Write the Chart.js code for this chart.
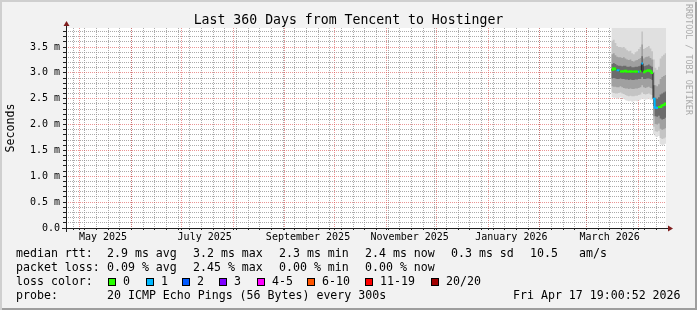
<!DOCTYPE html>
<html>
<head>
<meta charset="utf-8">
<title>Last 360 Days from Tencent to Hostinger</title>
<script src="https://cdn.jsdelivr.net/npm/chart.js@4.4.1/dist/chart.umd.min.js"></script>
<style>
  html, body { margin: 0; padding: 0; background: #f2f2f2; }
  #wrap { position: relative; width: 697px; height: 310px; background: #f2f2f2; overflow: hidden;
          box-shadow: inset 2px 2px 0 #cfcfcf, inset -2px -2px 0 #9e9e9e; }
  #myChart { position: absolute; left: 0; top: 0; }
  .t { position: absolute; font-family: "DejaVu Sans Mono", monospace; color: #000; white-space: pre; }
  #title { left: 0; width: 697px; top: 12px; text-align: center; font-size: 13.2px; line-height: 15px; }
  .lg { font-size: 11.6px; line-height: 14px; }
  .box { position: absolute; width: 6px; height: 6px; border: 1px solid #000; }
  #wm { left: 684px; top: 4px; width: 10px; writing-mode: vertical-rl; font-size: 8.4px; line-height: 10px; color: #aaa; }
</style>
</head>
<body>
<div id="wrap">
  <canvas id="myChart" width="697" height="310"></canvas>
  <div class="t" id="title">Last 360 Days from Tencent to Hostinger</div>
  <div class="t" id="wm">RRDTOOL / TOBI OETIKER</div>
</div>
<script>
const DAY = 86400000;
const END_TIME = Date.UTC(2026, 3, 17, 19, 0, 52);
const START_TIME = END_TIME - 360 * DAY;
const Y_MAX = 3.868;

// daily columns, only the last weeks hold data
const days = [
  '2026-03-16', '2026-03-17', '2026-03-18', '2026-03-19', '2026-03-20', '2026-03-21', '2026-03-22', '2026-03-23',
  '2026-03-24', '2026-03-25', '2026-03-26', '2026-03-27', '2026-03-28', '2026-03-29', '2026-03-30', '2026-03-31',
  '2026-04-01', '2026-04-02', '2026-04-03', '2026-04-04', '2026-04-05', '2026-04-06', '2026-04-07', '2026-04-08',
  '2026-04-09', '2026-04-10', '2026-04-11', '2026-04-12', '2026-04-13', '2026-04-14', '2026-04-15', '2026-04-16',
  '2026-04-17'
];
// median rtt (ms)
const median = [3.06, 3.09, 3.07, 3.05, 3.05, 3.03, 3.02, 3.03, 3.04, 3.02, 3.02, 3.03, 3.02, 3.02, 3.03, 3.02,
  3.02, 3.03, 3.18, 3.01, 3.03, 3.04, 3.05, 3.03, 3.00, 2.50, 2.33, 2.32, 2.34, 2.34, 2.37, 2.38, 2.41];
// lost pings out of 20
const lostPings = [0, 0, 0, 1, 1, 0, 0, 0, 0, 0, 0, 0, 0, 0, 0, 0,
  1, 0, 1, 0, 0, 0, 0, 0, 0, 1, 1, 1, 0, 0, 0, 0, 0];

// smoke: spread of the pings, outer pair first
const smokeLo1 = [2.53, 2.52, 2.52, 2.50, 2.51, 2.53, 2.52, 2.50, 2.47, 2.46, 2.45, 2.46, 2.44, 2.45, 2.46, 2.45,
  2.47, 2.48, 2.50, 2.49, 2.48, 2.49, 2.50, 2.48, 2.47, 1.82, 1.77, 1.76, 1.78, 1.62, 1.60, 1.61, 1.63];
const smokeHi1 = [4.4, 4.4, 4.4, 4.4, 4.4, 4.4, 4.4, 4.4, 4.4, 4.4, 4.4, 4.4, 4.4, 4.4, 4.4, 4.4,
  4.4, 4.4, 4.5, 4.4, 4.4, 4.4, 4.4, 4.4, 4.4, 4.1, 4.1, 4.1, 4.1, 4.1, 4.1, 4.1, 4.1];
const smokeLo2 = [2.62, 2.61, 2.60, 2.60, 2.61, 2.62, 2.60, 2.59, 2.57, 2.56, 2.55, 2.56, 2.55, 2.55, 2.56, 2.56,
  2.57, 2.58, 2.62, 2.59, 2.58, 2.59, 2.60, 2.58, 2.57, 1.96, 1.87, 1.86, 1.88, 1.74, 1.72, 1.73, 1.75];
const smokeHi2 = [3.62, 3.64, 3.58, 3.52, 3.50, 3.50, 3.49, 3.50, 3.47, 3.44, 3.42, 3.43, 3.38, 3.36, 3.40, 3.42,
  3.46, 3.50, 3.80, 3.46, 3.48, 3.50, 3.52, 3.47, 3.42, 3.26, 3.10, 3.06, 3.12, 3.28, 3.32, 3.35, 3.38];
const smokeLo3 = [2.74, 2.73, 2.73, 2.72, 2.72, 2.74, 2.72, 2.71, 2.70, 2.70, 2.69, 2.70, 2.69, 2.69, 2.70, 2.70,
  2.71, 2.72, 2.76, 2.72, 2.71, 2.72, 2.73, 2.71, 2.70, 2.16, 2.01, 2.00, 2.02, 1.92, 1.90, 1.91, 1.93];
const smokeHi3 = [3.36, 3.38, 3.34, 3.31, 3.30, 3.30, 3.29, 3.30, 3.28, 3.26, 3.25, 3.26, 3.23, 3.22, 3.24, 3.25,
  3.27, 3.29, 3.55, 3.28, 3.30, 3.31, 3.32, 3.29, 3.26, 3.02, 2.76, 2.74, 2.78, 2.88, 2.92, 2.94, 2.96];
const smokeLo4 = [2.89, 2.90, 2.89, 2.88, 2.88, 2.89, 2.88, 2.88, 2.87, 2.87, 2.86, 2.87, 2.86, 2.86, 2.87, 2.87,
  2.88, 2.88, 2.92, 2.88, 2.88, 2.89, 2.89, 2.88, 2.86, 2.36, 2.16, 2.15, 2.17, 2.12, 2.10, 2.11, 2.13];
const smokeHi4 = [3.17, 3.19, 3.17, 3.15, 3.14, 3.14, 3.13, 3.14, 3.14, 3.12, 3.12, 3.13, 3.11, 3.11, 3.12, 3.12,
  3.13, 3.14, 3.32, 3.13, 3.14, 3.15, 3.16, 3.14, 3.12, 2.76, 2.52, 2.50, 2.53, 2.58, 2.60, 2.62, 2.64];

// x axis labels (mid month)
const monthLabels = ['May 2025', 'July 2025', 'September 2025', 'November 2025', 'January 2026', 'March 2026'];
const monthLabelDates = ['2025-05-15', '2025-07-15', '2025-09-15', '2025-11-15', '2026-01-15', '2026-03-15'];

// legend
const rttStats = ['2.9 ms avg', '3.2 ms max', '2.3 ms min', '2.4 ms now', '0.3 ms sd', '10.5', 'am/s'];
const lossStats = ['0.09 % avg', '2.45 % max', '0.00 % min', '0.00 % now'];
const lossLabels = ['0', '1', '2', '3', '4-5', '6-10', '11-19', '20/20'];
const lossUpper = [0, 1, 2, 3, 5, 10, 19, 20];
const lossColors = ['#26ff00', '#00b8ff', '#0059ff', '#7e00ff', '#ff00ff', '#ff5500', '#ff0000', '#a00000'];
const probeText = '20 ICMP Echo Pings (56 Bytes) every 300s';
const stampText = 'Fri Apr 17 19:00:52 2026';

const rttX = [107, 193, 279, 365, 451, 530, 579];
const boxX = [108, 146, 182, 219, 257, 307, 365, 431];
const rowTop = [246, 260, 274, 288];

const t = days.map(d => Date.parse(d + 'T00:00:00Z'));
const lossClass = n => lossUpper.findIndex(u => n <= u);

function stepData(vals) {
    const pts = vals.map((v, i) => ({x: t[i], y: v}));
    pts.push({x: END_TIME, y: vals[vals.length - 1]});
    return pts;
}

const datasets = [];
const bands = [
    [smokeLo1, smokeHi1, '#e0e0e0'],
    [smokeLo2, smokeHi2, '#c4c4c4'],
    [smokeLo3, smokeHi3, '#a0a0a0'],
    [smokeLo4, smokeHi4, '#6c6c6c']
];
bands.forEach(([lo, hi, col], k) => {
    datasets.push({data: stepData(lo), stepped: true, borderWidth: 0, borderColor: 'transparent',
        pointRadius: 0, fill: false, order: 20 - k});
    datasets.push({data: stepData(hi), stepped: true, borderWidth: 0, borderColor: 'transparent',
        pointRadius: 0, fill: '-1', backgroundColor: col, order: 20 - k});
});
// thin median under the coloured pieces
datasets.push({data: stepData(median), stepped: true, borderWidth: 1, borderColor: '#202020',
    pointRadius: 0, fill: false, order: 2});
lossColors.forEach((col, k) => {
    const pts = [];
    for (let i = 0; i < t.length; i++) {
        if (lossClass(lostPings[i]) !== k) continue;
        pts.push({x: t[i], y: median[i]});
        if (i === t.length - 1 || lossClass(lostPings[i + 1]) !== k) {
            const tEnd = i + 1 < t.length ? t[i + 1] : END_TIME;
            pts.push({x: tEnd, y: median[i]}, {x: tEnd, y: null});
        }
    }
    if (pts.length) {
        datasets.push({data: pts, stepped: true, borderWidth: 2, borderColor: col,
            pointRadius: 0, fill: false, spanGaps: false, order: 1});
    }
});

const GRID = 'rgba(143,143,143,0.75)';
const MGRID = 'rgba(222,79,79,0.6)';

function buildXTicks(scale) {
    const ticks = [];
    for (let d = Date.UTC(2025, 3, 27); d <= END_TIME; d += 7 * DAY) ticks.push({value: d, kind: 'minor'});
    for (let m = 4; m <= 15; m++) ticks.push({value: Date.UTC(2025, m, 1), kind: 'major'});
    monthLabelDates.forEach((d, i) => ticks.push({value: Date.parse(d + 'T00:00:00Z'), kind: 'label', txt: monthLabels[i]}));
    ticks.sort((a, b) => a.value - b.value);
    scale.ticks = ticks;
}

function buildYTicks(scale) {
    const ticks = [];
    for (let i = 0; i <= 38; i++) ticks.push({value: i / 10});
    scale.ticks = ticks;
}

const isBig = v => Math.round(v * 10) % 5 === 0;
const xKind = c => (c.tick ? c.tick.kind : 'none');

const frame = {
    id: 'frame',
    beforeDraw(chart) {
        const {ctx, chartArea: a} = chart;
        ctx.save();
        ctx.fillStyle = '#ffffff';
        ctx.fillRect(a.left, a.top, a.right - a.left, a.bottom - a.top);
        ctx.restore();
    },
    afterDraw(chart) {
        const {ctx, chartArea: a} = chart;
        const x0 = a.left + 0.5, y0 = a.bottom + 0.5;
        ctx.save();
        ctx.strokeStyle = '#1f1f1f';
        ctx.lineWidth = 1;
        ctx.beginPath();
        ctx.moveTo(a.left - 4, y0); ctx.lineTo(a.right + 4, y0);
        ctx.moveTo(x0, a.bottom + 4); ctx.lineTo(x0, a.top - 4);
        ctx.stroke();
        ctx.fillStyle = '#801f1f';
        ctx.beginPath();
        ctx.moveTo(a.right + 2, y0 - 3); ctx.lineTo(a.right + 2, y0 + 3); ctx.lineTo(a.right + 7, y0);
        ctx.closePath(); ctx.fill();
        ctx.beginPath();
        ctx.moveTo(x0 - 3, a.top - 2); ctx.lineTo(x0 + 3, a.top - 2); ctx.lineTo(x0, a.top - 7);
        ctx.closePath(); ctx.fill();
        ctx.restore();
    }
};

const ctx = document.getElementById('myChart');
const myChart = new Chart(ctx, {
    type: 'line',
    data: {datasets: datasets},
    plugins: [frame],
    options: {
        responsive: false,
        animation: false,
        devicePixelRatio: 1,
        events: [],
        layout: {padding: {left: 0, top: 28, right: 31, bottom: 0}},
        plugins: {legend: {display: false}, tooltip: {enabled: false}, title: {display: false}},
        scales: {
            x: {
                type: 'linear', min: START_TIME, max: END_TIME,
                afterBuildTicks: buildXTicks,
                afterFit: s => { s.height = 82; },
                ticks: {
                    autoSkip: false, maxRotation: 0, minRotation: 0, padding: 1, color: '#000',
                    font: {family: 'DejaVu Sans Mono', size: 10},
                    callback: (v, i, ticks) => ticks[i].txt || ''
                },
                grid: {
                    color: c => xKind(c) === 'major' ? MGRID : xKind(c) === 'minor' ? GRID : 'transparent',
                    tickColor: c => xKind(c) === 'label' ? 'transparent' : '#1f1f1f',
                    tickLength: 2, lineWidth: 1
                },
                border: {display: false, dash: [1, 1]}
            },
            y: {
                type: 'linear', min: 0, max: Y_MAX,
                afterBuildTicks: buildYTicks,
                afterFit: s => { s.width = 66; },
                ticks: {
                    autoSkip: false, padding: 3, color: '#000',
                    font: {family: 'DejaVu Sans Mono', size: 10},
                    callback: v => isBig(v) ? (v < 0.05 ? '0.0' : v.toFixed(1) + ' m') : ''
                },
                grid: {
                    color: c => c.tick && isBig(c.tick.value) ? MGRID : GRID,
                    tickColor: '#1f1f1f', tickLength: 3, lineWidth: 1
                },
                border: {display: false, dash: [1, 1]},
                title: {
                    display: true, text: 'Seconds', color: '#000',
                    font: {family: 'DejaVu Sans Mono', size: 11.6}, padding: {top: 4, bottom: 0}
                }
            }
        }
    }
});

// legend rows as text
const wrap = document.getElementById('wrap');
function addText(str, x, y) {
    const d = document.createElement('div');
    d.className = 't lg';
    d.style.left = x + 'px';
    d.style.top = y + 'px';
    d.textContent = str;
    wrap.appendChild(d);
}
addText('median rtt:', 16, rowTop[0]);
rttStats.forEach((s, i) => addText(s, rttX[i], rowTop[0]));
addText('packet loss:', 16, rowTop[1]);
lossStats.forEach((s, i) => addText(s, rttX[i], rowTop[1]));
addText('loss color:', 16, rowTop[2]);
lossLabels.forEach((s, i) => {
    const b = document.createElement('div');
    b.className = 'box';
    b.style.left = boxX[i] + 'px';
    b.style.top = '278px';
    b.style.background = lossColors[i];
    wrap.appendChild(b);
    addText(s, boxX[i] + 15, rowTop[2]);
});
addText('probe:', 16, rowTop[3]);
addText(probeText, 107, rowTop[3]);
addText(stampText, 513, rowTop[3]);
</script>
</body>
</html>
